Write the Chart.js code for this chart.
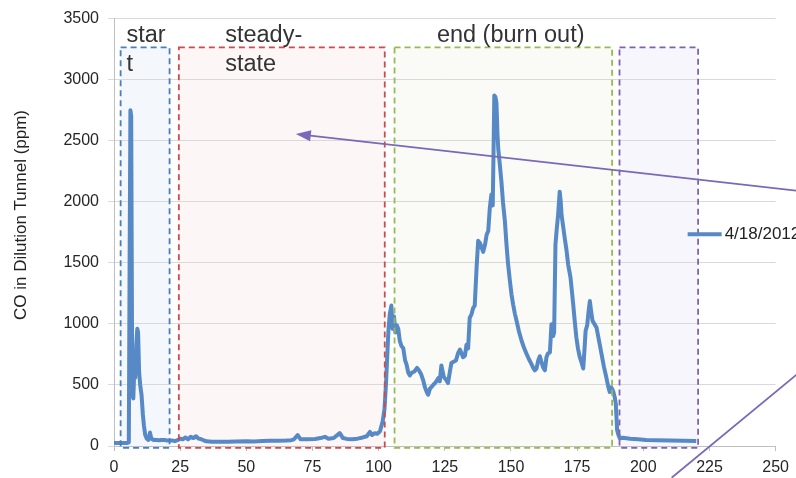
<html>
    <head>
        <meta charset="UTF-8">
        <title>CO in Dilution Tunnel</title>

        <script src="https://cdn.jsdelivr.net/npm/chart.js"></script>

        <style>
            body {
                margin: 0;
                background: #ffffff;
            }
            .chart_container {
                position: relative;
                width: 796px;
                height: 478px;
            }
        </style>
    </head>

    <body>
        <div class='chart_container'>
            <canvas id='coChart'></canvas>
        </div>

        <script>
            // time (min) and CO (ppm)
            const timeMin = [
                0, 1, 2, 3, 4, 5, 5.6, 5.9, 6.2, 6.5, 6.9, 7.3, 7.7, 8.0, 8.4, 8.8, 9.1, 9.5, 9.9,
                10.4, 10.9, 11.3, 11.8, 12.4, 13.0, 13.6, 14.1, 15, 16, 17, 18, 19, 20, 21, 22, 23, 24,
                25, 26, 27, 28, 29, 30, 31, 32, 33, 34, 35, 37, 40, 43, 46, 50, 53, 56, 59, 62, 65, 67,
                68, 69.4, 70.5, 73, 76, 78, 79.7, 81, 83, 85.3, 86.5, 88, 90, 92, 94, 95.5, 96.7, 97.5,
                98.5, 99.5, 100.5, 101.5, 102.2, 102.8, 103.3, 103.7, 104.2, 104.8, 105.3, 105.8, 106.3,
                106.8, 107.4, 108.0, 108.6, 109.3, 110.0, 110.5, 111.2, 111.8, 112.5, 113.5, 114.5, 115.2,
                116, 116.8, 117.5, 118.2, 118.7, 119.4, 120.6, 121.5, 122.5, 123.1, 123.7, 124.6, 125.4,
                126.2, 127.0, 127.5, 128.3, 129.2, 130, 130.7, 131.3, 131.9, 132.6, 133.2, 133.8, 134.4,
                135.1, 135.7, 136.3, 137, 137.6, 138.3, 139, 139.5, 140.2, 140.8, 141.4, 142, 142.6, 143.1,
                143.4, 143.7, 144.1, 144.5, 144.9, 145.2, 145.8, 146.4, 147, 147.7, 148.3, 148.9, 149.6,
                150.2, 150.8, 151.5, 152.1, 153, 154, 155, 155.9, 156.8, 157.7, 158.4, 159, 159.6, 160.3,
                160.9, 161.5, 162.1, 162.8, 163.4, 164, 164.7, 165.3, 165.9, 166.3, 166.8, 167.3, 167.8,
                168.4, 168.8, 169.1, 169.7, 170.3, 171, 171.6, 172.5, 173, 173.5, 174.1, 174.7, 175.3, 176,
                176.7, 177.3, 177.8, 178.2, 178.8, 179.3, 179.8, 180.3, 180.8, 181.5, 182.3, 183.2, 184.2,
                185.1, 186, 186.7, 187.3, 187.9, 188.6, 189.2, 189.6, 190.1, 190.6, 191.1, 192.3, 195, 198,
                201, 205, 210, 215, 220
            ];
            const coPpm = [
                25, 25, 25, 25, 25, 25, 30, 1500, 2750, 2700, 420, 390, 650, 560, 820, 960, 930, 600, 500,
                420, 260, 170, 90, 60, 50, 110, 60, 50, 50, 48, 50, 50, 45, 45, 45, 40, 48,
                60, 55, 70, 55, 75, 65, 80, 60, 55, 45, 38, 35, 35, 35, 36, 38, 37, 40, 42, 42, 45, 48,
                55, 90, 55, 55, 58, 65, 75, 60, 65, 105, 65, 58, 55, 60, 70, 80, 115, 90,
                105, 100, 120, 200, 300, 520, 760, 950, 1080, 1150, 960, 1060, 930,
                990, 960, 860, 820, 800, 700, 670, 600, 578, 600, 610, 640, 620,
                590, 540, 480, 440, 420, 470, 500, 520, 555, 530, 660, 565, 545,
                515, 620, 680, 690, 700, 760, 790, 760, 727, 740, 830, 800, 1050,
                1080, 1130, 1150, 1460, 1680, 1660, 1620, 1590, 1650, 1730, 1760, 1950, 2060, 1970,
                2400, 2870, 2860, 2810, 2550, 2430, 2300, 2160, 1990, 1840, 1650, 1490, 1350,
                1240, 1160, 1080, 1025, 940, 862, 800, 754, 710, 673, 640, 620, 632, 700,
                735, 690, 645, 620, 727, 760, 767, 998, 900, 930, 1650, 1780, 1893,
                2083, 2000, 1893, 1800, 1703, 1600, 1486, 1378, 1270, 1161, 1020, 889, 800, 727,
                680, 635, 800, 944, 990, 1100, 1188, 1100, 1025, 1000, 971, 870, 754,
                650, 564, 490, 442, 480, 450, 400, 347, 130, 90, 63, 68, 60, 55,
                49, 47, 45, 43, 41
            ];

            const seriesLabel = '4/18/2012';

            // phase boxes (time range and ppm range)
            const phaseNames = [['star', 't'], ['steady-', 'state'], ['end (burn out)'], []];
            const phaseStart = [2.5, 24.5, 106, 191];
            const phaseEnd = [21, 102.3, 188.2, 220.7];
            const phaseTop = 3265;
            const phaseBottom = -15;
            const phaseLabelX = [4.7, 42, 122, 0];

            // annotation lines, as [x0, y0, x1, y1] in data units
            const arrowLine = [270, 2061, 68.7, 2555];
            const slashLine = [210.7, -260, 270, 800];

            const xTicks = [0, 25, 50, 75, 100, 125, 150, 175, 200, 225, 250];
            const yTicks = [0, 500, 1000, 1500, 2000, 2500, 3000, 3500];

            const phaseFill = ['rgb(244,247,252)', 'rgb(252,246,246)', 'rgb(250,250,246)', 'rgb(247,246,252)'];
            const phaseStroke = ['rgb(74,126,187)', 'rgb(205,75,75)', 'rgb(150,187,80)', 'rgb(128,100,170)'];
            const lineColor = 'rgb(86,137,197)';
            const annotColor = 'rgb(122,104,184)';
            const fontName = '"Liberation Sans", Arial, sans-serif';

            const phasePlugin = {
                id: 'phases',
                beforeDraw(chart) {
                    const ctx = chart.ctx;
                    const xs = chart.scales.x;
                    const ys = chart.scales.y;
                    ctx.save();
                    for (let i = 0; i < phaseStart.length; i++) {
                        const x0 = xs.getPixelForValue(phaseStart[i]);
                        const x1 = xs.getPixelForValue(phaseEnd[i]);
                        const y0 = ys.getPixelForValue(phaseTop);
                        const y1 = ys.getPixelForValue(phaseBottom);
                        ctx.fillStyle = phaseFill[i];
                        ctx.fillRect(x0, y0, x1 - x0, y1 - y0);
                    }
                    ctx.restore();
                },
                afterDatasetsDraw(chart) {
                    const ctx = chart.ctx;
                    const xs = chart.scales.x;
                    const ys = chart.scales.y;
                    const area = chart.chartArea;
                    ctx.save();
                    // dashed borders
                    ctx.setLineDash([6, 4]);
                    ctx.lineWidth = 1.8;
                    for (let i = 0; i < phaseStart.length; i++) {
                        const x0 = xs.getPixelForValue(phaseStart[i]);
                        const x1 = xs.getPixelForValue(phaseEnd[i]);
                        const y0 = ys.getPixelForValue(phaseTop);
                        const y1 = ys.getPixelForValue(phaseBottom);
                        ctx.strokeStyle = phaseStroke[i];
                        ctx.strokeRect(x0, y0, x1 - x0, y1 - y0);
                    }
                    ctx.setLineDash([]);
                    // phase names
                    ctx.fillStyle = '#333333';
                    ctx.font = '23.5px ' + fontName;
                    ctx.textBaseline = 'alphabetic';
                    for (let i = 0; i < phaseNames.length; i++) {
                        const x = xs.getPixelForValue(phaseLabelX[i]);
                        phaseNames[i].forEach((t, k) => {
                            ctx.fillText(t, x, 42 + k * 29);
                        });
                    }
                    // legend
                    const ly = (area.top + area.bottom) / 2 + 2;
                    ctx.strokeStyle = lineColor;
                    ctx.lineWidth = 4;
                    ctx.beginPath();
                    ctx.moveTo(area.right - 88, ly);
                    ctx.lineTo(area.right - 54, ly);
                    ctx.stroke();
                    ctx.fillStyle = '#222222';
                    ctx.font = '17px ' + fontName;
                    ctx.textBaseline = 'middle';
                    ctx.fillText(seriesLabel, area.right - 51, ly);
                    // y axis title
                    ctx.save();
                    ctx.translate(21, 215);
                    ctx.rotate(-Math.PI / 2);
                    ctx.textAlign = 'center';
                    ctx.font = '17px ' + fontName;
                    ctx.fillText('CO in Dilution Tunnel (ppm)', 0, 0);
                    ctx.restore();
                    // annotation lines
                    ctx.strokeStyle = annotColor;
                    ctx.fillStyle = annotColor;
                    ctx.lineWidth = 1.8;
                    const ax0 = xs.getPixelForValue(arrowLine[0]);
                    const ay0 = ys.getPixelForValue(arrowLine[1]);
                    const ax1 = xs.getPixelForValue(arrowLine[2]);
                    const ay1 = ys.getPixelForValue(arrowLine[3]);
                    const ang = Math.atan2(ay1 - ay0, ax1 - ax0);
                    ctx.beginPath();
                    ctx.moveTo(ax0, ay0);
                    ctx.lineTo(ax1 - 10 * Math.cos(ang), ay1 - 10 * Math.sin(ang));
                    ctx.stroke();
                    ctx.beginPath();
                    ctx.moveTo(ax1, ay1);
                    ctx.lineTo(ax1 - 15 * Math.cos(ang) + 5.5 * Math.sin(ang), ay1 - 15 * Math.sin(ang) - 5.5 * Math.cos(ang));
                    ctx.lineTo(ax1 - 15 * Math.cos(ang) - 5.5 * Math.sin(ang), ay1 - 15 * Math.sin(ang) + 5.5 * Math.cos(ang));
                    ctx.closePath();
                    ctx.fill();
                    ctx.beginPath();
                    ctx.moveTo(xs.getPixelForValue(slashLine[0]), ys.getPixelForValue(slashLine[1]));
                    ctx.lineTo(xs.getPixelForValue(slashLine[2]), ys.getPixelForValue(slashLine[3]));
                    ctx.stroke();
                    ctx.restore();
                }
            };

            const points = timeMin.map((t, i) => ({ x: t, y: coPpm[i] }));

            const config = {
                type: 'line',
                data: {
                    datasets: [
                        {
                            label: seriesLabel,
                            data: points,
                            borderColor: lineColor,
                            backgroundColor: lineColor,
                            borderWidth: 4,
                            pointRadius: 0,
                            tension: 0,
                            borderJoinStyle: 'round',
                            clip: false
                        }
                    ]
                },
                options: {
                    responsive: false,
                    animation: false,
                    layout: {
                        padding: { top: 16, right: 19, left: 0, bottom: 0 }
                    },
                    plugins: {
                        legend: { display: false },
                        tooltip: { enabled: false }
                    },
                    scales: {
                        x: {
                            type: 'linear',
                            min: 0,
                            max: 250,
                            afterFit: (scale) => { scale.height = 32; },
                            afterBuildTicks: (scale) => { scale.ticks = xTicks.map(v => ({ value: v })); },
                            border: { color: '#bfbfbf', width: 1 },
                            grid: { drawOnChartArea: false, drawTicks: true, tickLength: 5, color: '#bfbfbf' },
                            ticks: {
                                color: '#262626',
                                font: { family: fontName, size: 16 },
                                padding: 7,
                                maxRotation: 0,
                                callback: (v) => String(v)
                            }
                        },
                        y: {
                            min: 0,
                            max: 3500,
                            afterFit: (scale) => { scale.width = 114; },
                            afterBuildTicks: (scale) => { scale.ticks = yTicks.map(v => ({ value: v })); },
                            border: { color: '#bfbfbf', width: 1 },
                            grid: { color: '#d9d9d9', tickLength: 6 },
                            ticks: {
                                color: '#262626',
                                font: { family: fontName, size: 16 },
                                padding: 9,
                                callback: (v) => String(v)
                            }
                        }
                    }
                },
                plugins: [phasePlugin]
            };

            const canvas = document.getElementById('coChart');
            canvas.width = 796;
            canvas.height = 478;
            new Chart(canvas, config);
        </script>
    </body>
</html>
